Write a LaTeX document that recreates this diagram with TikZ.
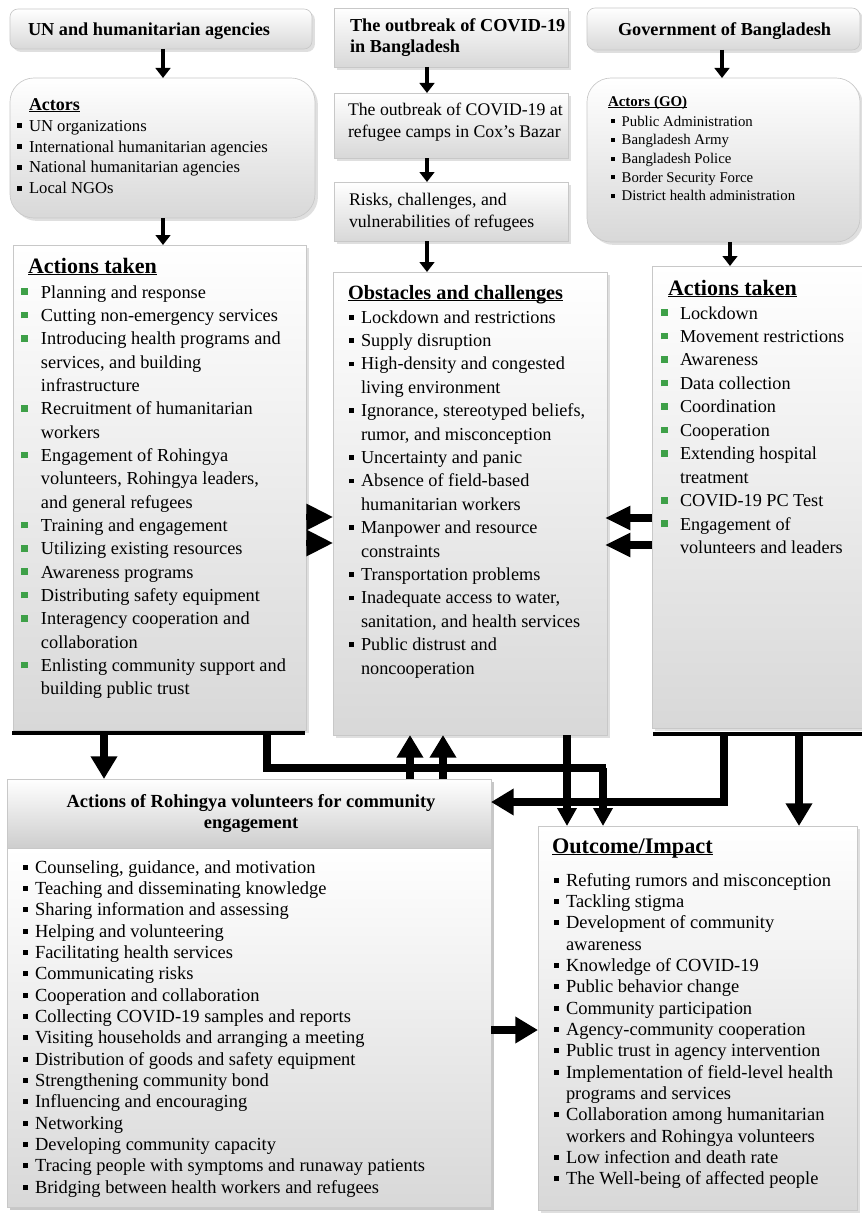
\documentclass[tikz,border=0pt]{standalone}
\usepackage{fontspec}
\setmainfont{Liberation Serif}
\usetikzlibrary{arrows.meta,shadows,fit}
\definecolor{bgreen}{RGB}{62,160,72}
\definecolor{boxbot}{RGB}{216,216,216}
\definecolor{boxline}{RGB}{200,200,200}
\newcommand\gsq{\raisebox{2.3pt}{\textcolor{bgreen}{\rule{5pt}{5pt}}}}
\newcommand\bsq{\rule[2.6pt]{3.6pt}{3.6pt}}
\newcommand\itm[3]{\hangindent=#1\hangafter=1\noindent\makebox[#1][l]{#2}#3\par}
\newcommand\ulx[1]{\setbox0\hbox{#1}\rlap{\rule[-1.8pt]{\wd0}{0.9pt}}\box0}
\newcommand\fsz[2]{\fontsize{#1}{#2}\selectfont}
\begin{document}
\begin{tikzpicture}[x=0.75pt,y=-0.75pt,
  box/.style={draw=boxline, line width=0.5pt, top color=white, bottom color=boxbot,
    drop shadow={shadow xshift=2.2pt, shadow yshift=-2.2pt, opacity=0.25},
    inner sep=0pt, outer sep=0pt},
  tbox/.style={box, rounded corners=6pt},
  rbox/.style={box, rounded corners=18pt},
  txt/.style={anchor=base west, inner sep=0pt, outer sep=0pt},
  sarr/.style={line width=3pt, -{Triangle[length=7.5pt,width=11pt]}},
  bigarr/.style={line width=5.5pt, line join=miter, -{Triangle[length=17pt,width=19pt]}},
  narr/.style={line width=5.5pt, line join=miter, -{Triangle[length=13.5pt,width=14pt]}},
  sideR/.style={line width=4pt, -{Triangle[length=20pt,width=19pt]}},
  sideL/.style={line width=5.5pt, -{Triangle[length=19pt,width=17pt]}},
  bar/.style={line width=3.6pt}]
\useasboundingbox (0,0) rectangle (862,1213);
\fill[white] (0,0) rectangle (862,1213);

% ---------- boxes ----------
\node[tbox, fit={(10,9)(312,49)}] (un) {};
\node[box, fit={(334,8)(568,67)}] (ob1) {};
\node[tbox, fit={(587,8)(860,50)}] (gov) {};
\node[rbox, fit={(10,78)(315,218)}] (actU) {};
\node[box, fit={(334,93)(568,158)}] (ob2) {};
\node[box, fit={(334,182)(568,241)}] (ob3) {};
\node[rbox, fit={(587,78)(860,242)}] (govA) {};
\node[box, fit={(13,245)(306,730)}] (actL) {};
\node[box, fit={(333,272)(607,735)}] (obs) {};
\node[box, fit={(652,266)(866,728)}] (actR) {};
\node[box, fit={(7,779)(491,1207)}] (rohB) {};
\node[box, drop shadow={opacity=0}, bottom color=boxbot!95!black, fit={(7,779)(491,848)}] (rohH) {};
\node[box, drop shadow={opacity=0}, fit={(7,848)(491,1207)}] (rohL) {};
\node[box, fit={(538,826)(857,1210)}] (out) {};

% ---------- texts ----------
\node[txt] (unT) at (28,36) {\fsz{13.7}{16}\bfseries UN and humanitarian agencies};
\node[txt] (govT) at (618,36) {\fsz{13.7}{16}\bfseries Government of Bangladesh};
\node[txt] (ob1T) at (350,32) {\parbox[t]{300pt}{\fsz{13.7}{15.75}\bfseries The outbreak of COVID-19\\in Bangladesh}};
\node[txt] (ob2T) at (348,115) {\parbox[t]{300pt}{\fsz{13.3}{16.5}The outbreak of COVID-19 at\\refugee camps in Cox’s Bazar}};
\node[txt] (ob3T) at (349,205) {\parbox[t]{300pt}{\fsz{13.3}{16.5}Risks, challenges, and\\vulnerabilities of refugees}};

\node[txt] (actUH) at (29,110) {\fsz{13.5}{16}\bfseries\ulx{Actors}};
\node[txt] (actUL) at (17,131) {\parbox[t]{300pt}{\fsz{12.5}{15.75}%
\itm{9pt}{\bsq}{UN organizations}
\itm{9pt}{\bsq}{International humanitarian agencies}
\itm{9pt}{\bsq}{National humanitarian agencies}
\itm{9pt}{\bsq}{Local NGOs}}};

\node[txt] (govAH) at (608,106) {\fsz{11.2}{14}\bfseries\ulx{Actors (GO)}};
\node[txt] (govAL) at (611,126) {\parbox[t]{300pt}{\fsz{11.1}{14.06}%
\itm{8pt}{\rule[2.2pt]{3pt}{3pt}}{Public Administration}
\itm{8pt}{\rule[2.2pt]{3pt}{3pt}}{Bangladesh Army}
\itm{8pt}{\rule[2.2pt]{3pt}{3pt}}{Bangladesh Police}
\itm{8pt}{\rule[2.2pt]{3pt}{3pt}}{Border Security Force}
\itm{8pt}{\rule[2.2pt]{3pt}{3pt}}{District health administration}}};

\node[txt] (actLH) at (28,273) {\fsz{16.5}{18}\bfseries\ulx{Actions taken}};
\node[txt] (actLL) at (21,298) {\parbox[t]{300pt}{\fsz{13.75}{17.5}%
\itm{15pt}{\gsq}{Planning and response}
\itm{15pt}{\gsq}{Cutting non-emergency services}
\itm{15pt}{\gsq}{Introducing health programs and\newline services, and building\newline infrastructure}
\itm{15pt}{\gsq}{Recruitment of humanitarian\newline workers}
\itm{15pt}{\gsq}{Engagement of Rohingya\newline volunteers, Rohingya leaders,\newline and general refugees}
\itm{15pt}{\gsq}{Training and engagement}
\itm{15pt}{\gsq}{Utilizing existing resources}
\itm{15pt}{\gsq}{Awareness programs}
\itm{15pt}{\gsq}{Distributing safety equipment}
\itm{15pt}{\gsq}{Interagency cooperation and\newline collaboration}
\itm{15pt}{\gsq}{Enlisting community support and\newline building public trust}}};

\node[txt] (obsH) at (348,299) {\fsz{15.2}{17}\bfseries\ulx{Obstacles and challenges}};
\node[txt] (obsL) at (349,323) {\parbox[t]{300pt}{\fsz{13.7}{17.55}%
\itm{9pt}{\bsq}{Lockdown and restrictions}
\itm{9pt}{\bsq}{Supply disruption}
\itm{9pt}{\bsq}{High-density and congested\newline living environment}
\itm{9pt}{\bsq}{Ignorance, stereotyped beliefs,\newline rumor, and misconception}
\itm{9pt}{\bsq}{Uncertainty and panic}
\itm{9pt}{\bsq}{Absence of field-based\newline humanitarian workers}
\itm{9pt}{\bsq}{Manpower and resource\newline constraints}
\itm{9pt}{\bsq}{Transportation problems}
\itm{9pt}{\bsq}{Inadequate access to water,\newline sanitation, and health services}
\itm{9pt}{\bsq}{Public distrust and\newline noncooperation}}};

\node[txt] (actRH) at (668,295) {\fsz{16.5}{18}\bfseries\ulx{Actions taken}};
\node[txt] (actRL) at (661,319) {\parbox[t]{300pt}{\fsz{13.65}{17.6}%
\itm{14.25pt}{\gsq}{Lockdown}
\itm{14.25pt}{\gsq}{Movement restrictions}
\itm{14.25pt}{\gsq}{Awareness}
\itm{14.25pt}{\gsq}{Data collection}
\itm{14.25pt}{\gsq}{Coordination}
\itm{14.25pt}{\gsq}{Cooperation}
\itm{14.25pt}{\gsq}{Extending hospital\newline treatment}
\itm{14.25pt}{\gsq}{COVID-19 PC Test}
\itm{14.25pt}{\gsq}{Engagement of\newline volunteers and leaders}}};

\node[anchor=base, inner sep=0pt] (rohT) at (251,807) {\parbox[t]{400pt}{\centering\fsz{13.85}{15.75}\bfseries Actions of Rohingya volunteers for community\\engagement}};
\node[txt] (rohLL) at (23,873) {\parbox[t]{400pt}{\fsz{13.85}{16}%
\itm{9pt}{\bsq}{Counseling, guidance, and motivation}
\itm{9pt}{\bsq}{Teaching and disseminating knowledge}
\itm{9pt}{\bsq}{Sharing information and assessing}
\itm{9pt}{\bsq}{Helping and volunteering}
\itm{9pt}{\bsq}{Facilitating health services}
\itm{9pt}{\bsq}{Communicating risks}
\itm{9pt}{\bsq}{Cooperation and collaboration}
\itm{9pt}{\bsq}{Collecting COVID-19 samples and reports}
\itm{9pt}{\bsq}{Visiting households and arranging a meeting}
\itm{9pt}{\bsq}{Distribution of goods and safety equipment}
\itm{9pt}{\bsq}{Strengthening community bond}
\itm{9pt}{\bsq}{Influencing and encouraging}
\itm{9pt}{\bsq}{Networking}
\itm{9pt}{\bsq}{Developing community capacity}
\itm{9pt}{\bsq}{Tracing people with symptoms and runaway patients}
\itm{9pt}{\bsq}{Bridging between health workers and refugees}}};

\node[txt] (outH) at (552,853) {\fsz{16.7}{18}\bfseries\ulx{Outcome/Impact}};
\node[txt] (outL) at (554,886) {\parbox[t]{300pt}{\fsz{13.85}{16}%
\itm{9pt}{\bsq}{Refuting rumors and misconception}
\itm{9pt}{\bsq}{Tackling stigma}
\itm{9pt}{\bsq}{Development of community\newline awareness}
\itm{9pt}{\bsq}{Knowledge of COVID-19}
\itm{9pt}{\bsq}{Public behavior change}
\itm{9pt}{\bsq}{Community participation}
\itm{9pt}{\bsq}{Agency-community cooperation}
\itm{9pt}{\bsq}{Public trust in agency intervention}
\itm{9pt}{\bsq}{Implementation of field-level health\newline programs and services}
\itm{9pt}{\bsq}{Collaboration among humanitarian\newline workers and Rohingya volunteers}
\itm{9pt}{\bsq}{Low infection and death rate}
\itm{9pt}{\bsq}{The Well-being of affected people}}};

% ---------- top connectors ----------
\coordinate (xu) at (163,0);
\coordinate (xc) at (427,0);
\coordinate (xg) at (722,0);
\coordinate (xg2) at (730,0);
\draw[sarr] (xu |- un.south) -- (xu |- actU.north);
\draw[sarr] (xu |- actU.south) -- (xu |- actL.north);
\draw[sarr] (xc |- ob1.south) -- (xc |- ob2.north);
\draw[sarr] (xc |- ob2.south) -- (xc |- ob3.north);
\draw[sarr] (xc |- ob3.south) -- (xc |- obs.north);
\draw[sarr] (xg |- gov.south) -- (xg |- govA.north);
\draw[sarr] (xg2 |- govA.south) -- (xg2 |- actR.north);

% ---------- side connectors ----------
\coordinate (s1) at (0,517);
\coordinate (s2) at (0,543);
\coordinate (s3) at (0,518);
\coordinate (s4) at (0,545);
\draw[sideR] (s1 -| actL.east) -- (s1 -| obs.west);
\draw[sideR] (s2 -| actL.east) -- (s2 -| obs.west);
\draw[sideL] (s3 -| actR.west) -- ([xshift=-1.5pt]s3 -| obs.east);
\draw[sideL] (s4 -| actR.west) -- ([xshift=-1.5pt]s4 -| obs.east);

% ---------- bottom bars and connectors ----------
\coordinate (barL1) at (12,733);
\coordinate (barL2) at (305,733);
\coordinate (barR1) at (653,734);
\coordinate (barR2) at (866,734);
\draw[bar] (barL1) -- (barL2);
\draw[bar] (barR1) -- (barR2);

\coordinate (bL) at (104,733);
\draw[bigarr] (bL) -- (bL |- rohB.north);

\coordinate (bK) at (267,733);
\coordinate (bK2) at (603,768);
\draw[narr] (bK) |- ([xshift=2pt]bK2) (bK2) -- (bK2 |- out.north);

\coordinate (u1) at (410,0);
\coordinate (u2) at (443,0);
\draw[bigarr] (u1 |- rohB.north) -- (u1 |- obs.south);
\draw[bigarr] (u2 |- rohB.north) -- (u2 |- obs.south);

\coordinate (c1) at (567,0);
\draw[narr] (c1 |- obs.south) -- (c1 |- out.north);

\coordinate (bR) at (724,734);
\coordinate (bR2) at (724,802);
\draw[bigarr] (bR) -- (bR2) -- (bR2 -| rohB.east);

\coordinate (bR3) at (799,734);
\draw[bigarr] (bR3) -- (bR3 |- out.north);

\coordinate (m) at (0,1030);
\draw[bigarr] (m -| rohB.east) -- (m -| out.west);
\end{tikzpicture}
\end{document}
